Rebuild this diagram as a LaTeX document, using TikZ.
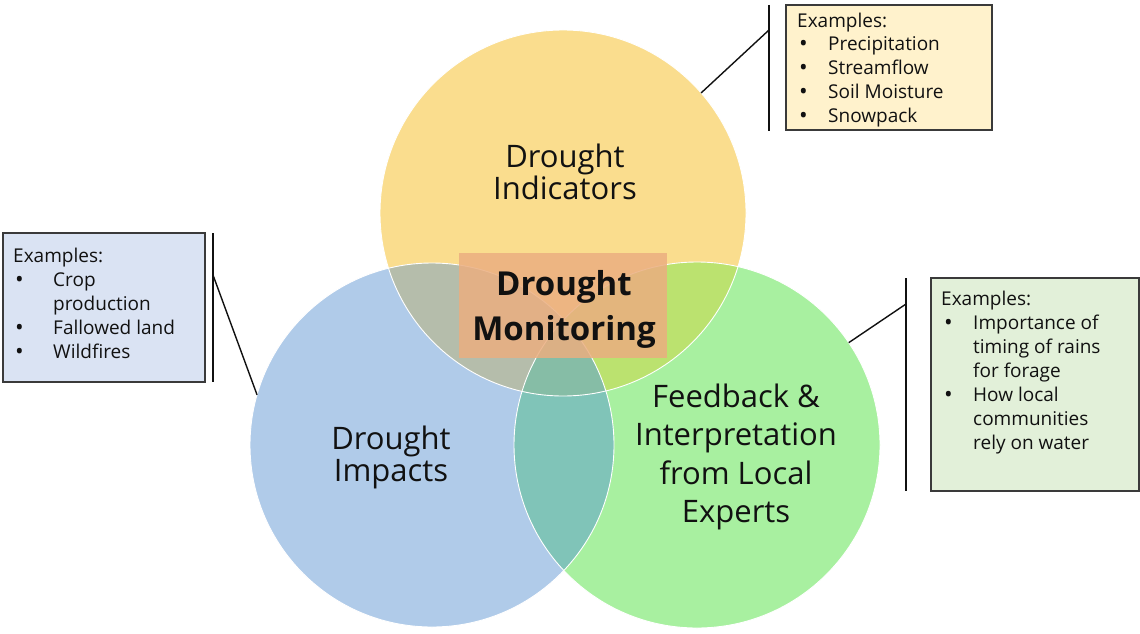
\documentclass[tikz,border=0pt]{standalone}
\usepackage{fontspec}
\setmainfont{Open Sans}
\definecolor{cy}{HTML}{FADD8E}
\definecolor{cb}{HTML}{B0CBE9}
\definecolor{cg}{HTML}{A8F0A0}
\definecolor{cyb}{HTML}{B5BDAB}
\definecolor{cyg}{HTML}{BBE26F}
\definecolor{cbg}{HTML}{80C4B8}
\definecolor{cybg}{HTML}{86BDA6}
\definecolor{cmon}{HTML}{EBAE80}
\definecolor{bxy}{HTML}{FFF2CC}
\definecolor{bxb}{HTML}{DAE3F3}
\definecolor{bxg}{HTML}{E2F0D9}
\definecolor{ink}{HTML}{111111}
\definecolor{edge}{HTML}{3A3A3A}
\newcommand\bulletat[2]{\makebox[#1pt][l]{\hspace*{#2pt}\raisebox{-1pt}{\fontsize{23}{23}\selectfont •}}}
\tikzset{
  venn/.style={circle, inner sep=0pt, outer sep=0pt, draw=white, line width=0.9pt, minimum size=#1},
  big/.style={font=\fontsize{31}{32}\selectfont, text=ink, align=center, inner sep=0pt},
  exbox/.style={draw=edge, line width=1.4pt, inner sep=0pt, outer sep=0pt, anchor=north west},
  extext/.style={font=\fontsize{19}{23.7}\selectfont, text=ink, align=left, inner sep=0pt, anchor=north west},
  bracket/.style={draw=ink, line width=1.4pt},
}
\begin{document}
\begin{tikzpicture}[x=1pt, y=-1pt]
\useasboundingbox (0,0) rectangle (1140,634);
% base circles
\fill[cy] (563,213) circle[radius=183pt];
\fill[cb] (432,445) circle[radius=182pt];
\fill[cg] (697,445) circle[radius=183pt];
% overlaps
\begin{scope}
  \clip (563,213) circle[radius=183pt];
  \fill[cyb] (432,445) circle[radius=182pt];
  \fill[cyg] (697,445) circle[radius=183pt];
\end{scope}
\begin{scope}
  \clip (432,445) circle[radius=182pt];
  \fill[cbg] (697,445) circle[radius=183pt];
\end{scope}
\begin{scope}
  \clip (563,213) circle[radius=183pt];
  \clip (432,445) circle[radius=182pt];
  \fill[cybg] (697,445) circle[radius=183pt];
\end{scope}
% circle outlines (named for connectors)
\node[venn=366pt] (Y) at (563,213) {};
\node[venn=364pt] (B) at (432,445) {};
\node[venn=366pt] (G) at (697,445) {};
% centre box
\node[fill=cmon, fill opacity=0.85, minimum width=208pt, minimum height=105pt, inner sep=0pt, outer sep=0pt, anchor=north west] (monbox) at (459,253) {};
% circle labels
\node[big] (ind) at (565,172.2) {Drought\\Indicators};
\node[big] (imp) at (391,457) {Drought\\Impacts};
\node[big, font=\fontsize{31}{38.5}\selectfont] (fb) at (736,457) {Feedback \&\\Interpretation\\from Local\\Experts};
\node[text=ink, align=center, inner sep=0pt, font=\bfseries\fontsize{33}{45}\selectfont] (mon) at (564,309) {Drought\\Monitoring};
% example boxes
\node[exbox, fill=bxy, minimum width=206pt, minimum height=125pt] (indbox) at (786,5) {};
\node[extext] (indtext) at (797,12.6) {Examples:\\
\bulletat{31}{2}Precipitation\\
\bulletat{31}{2}Streamflow\\
\bulletat{31}{2}Soil Moisture\\
\bulletat{31}{2}Snowpack};
\node[exbox, fill=bxb, minimum width=202pt, minimum height=149pt] (impbox) at (3,233) {};
\node[extext, font=\fontsize{19}{24}\selectfont] (imptext) at (13,247.6) {Examples:\\
\bulletat{40}{2}Crop\\
\hspace*{40pt}production\\
\bulletat{40}{2}Fallowed land\\
\bulletat{40}{2}Wildfires};
\node[exbox, fill=bxg, minimum width=208pt, minimum height=213pt] (fbbox) at (931,278) {};
\node[extext, font=\fontsize{19}{24}\selectfont] (fbtext) at (941,290.6) {Examples:\\
\bulletat{32}{3}Importance of\\
\hspace*{32pt}timing of rains\\
\hspace*{32pt}for forage\\
\bulletat{32}{3}How local\\
\hspace*{32pt}communities\\
\hspace*{32pt}rely on water};
% brackets and connectors
\coordinate (itop) at (769,5);
\coordinate (ibot) at (769,131);
\coordinate (ijoin) at (769,30);
\draw[bracket] (itop) -- (ibot);
\draw[bracket] (Y.41) -- (ijoin);
\coordinate (ltop) at (213,233);
\coordinate (lbot) at (213,382);
\coordinate (ljoin) at (213,275);
\draw[bracket] (ltop) -- (lbot);
\draw[bracket] (B.164) -- (ljoin);
\coordinate (rtop) at (906,278);
\coordinate (rbot) at (906,491);
\coordinate (rjoin) at (906,304);
\draw[bracket] (rtop) -- (rbot);
\draw[bracket] (G.34) -- (rjoin);
\end{tikzpicture}
\end{document}
